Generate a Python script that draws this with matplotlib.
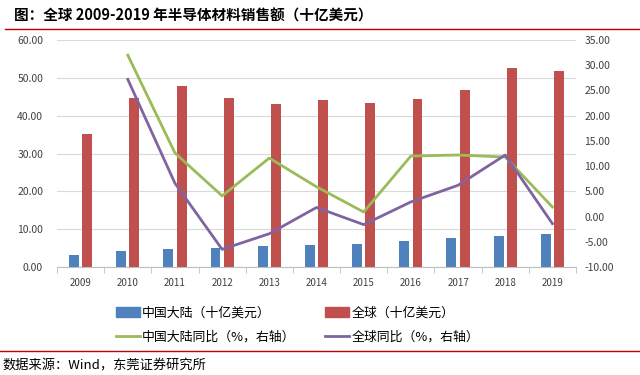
import numpy as np
import matplotlib.pyplot as plt
from matplotlib.lines import Line2D
from matplotlib.patches import Patch

plt.rcParams['font.family'] = ['Noto Sans CJK SC', 'DejaVu Sans']

years = ['2009', '2010', '2011', '2012', '2013', '2014', '2015', '2016', '2017', '2018', '2019']
china = [3.2, 4.3, 4.8, 5.0, 5.6, 5.8, 6.1, 6.9, 7.6, 8.3, 8.6]
world = [35.2, 44.8, 47.9, 44.8, 43.1, 44.1, 43.4, 44.4, 46.8, 52.6, 51.9]
china_yoy = [np.nan, 32.0, 12.6, 4.1, 11.6, 5.9, 0.9, 12.0, 12.2, 11.8, 1.9]
world_yoy = [np.nan, 27.2, 6.6, -6.5, -3.4, 1.8, -1.6, 2.9, 6.2, 12.2, -1.4]

c_blue = '#4F81BD'
c_red = '#C0504D'
c_green = '#9BBB59'
c_purple = '#8064A2'
c_txt = '#404040'

fig = plt.figure(figsize=(6.4, 3.75), dpi=100)
ax = fig.add_axes([57/640, 108/375, 519/640, 227/375])
x = np.arange(len(years))

ax.bar(x - 0.14, china, width=0.21, color=c_blue, zorder=2)
ax.bar(x + 0.14, world, width=0.21, color=c_red, zorder=2)
ax.set_ylim(0, 60)
ax.set_yticks(np.arange(0, 61, 10))
ax.set_yticklabels(['%.2f' % v for v in np.arange(0, 61, 10)])
ax.set_xlim(-0.5, len(years) - 0.5)
ax.set_xticks(x)
ax.set_xticklabels(years)
ax.set_xticks(np.arange(-0.5, len(years)), minor=True)
ax.tick_params(axis='x', which='major', length=0, pad=8, labelsize=7, colors=c_txt)
ax.tick_params(axis='x', which='minor', length=4, color='#BFBFBF')
ax.tick_params(axis='y', length=0, labelsize=7.5, colors=c_txt, pad=10)
ax.grid(axis='y', color='#D9D9D9', linewidth=0.8, zorder=0)
for s in ['top', 'right', 'left']:
    ax.spines[s].set_visible(False)
ax.spines['bottom'].set_color('#BFBFBF')

ax2 = ax.twinx()
ax2.plot(x, china_yoy, color=c_green, linewidth=2)
ax2.plot(x, world_yoy, color=c_purple, linewidth=2)
ax2.set_ylim(-10, 35)
ax2.set_yticks(np.arange(-10, 36, 5))
ax2.set_yticklabels(['%.2f' % v for v in np.arange(-10, 36, 5)])
ax2.tick_params(axis='y', length=0, labelsize=7.5, colors=c_txt, pad=6)
for s in ['top', 'right', 'left', 'bottom']:
    ax2.spines[s].set_visible(False)

# column-wise fill: blue, green | red, purple
handles = [Patch(color=c_blue), Line2D([], [], color=c_green, linewidth=2),
           Patch(color=c_red), Line2D([], [], color=c_purple, linewidth=2)]
labels = ['中国大陆（十亿美元）', '中国大陆同比（%，右轴）', '全球（十亿美元）', '全球同比（%，右轴）']
fig.legend(handles, labels, ncol=2, loc='center', bbox_to_anchor=(0.465, 1 - 325/375),
           frameon=False, fontsize=9.3, handlelength=1.8, handletextpad=0.2,
           columnspacing=2.3, labelspacing=0.85)

fig.text(14/640, 1 - 16/375, '图：全球 2009-2019 年半导体材料销售额（十亿美元）',
         fontsize=10.5, fontweight='bold', va='center', ha='left')
fig.add_artist(Line2D([5/640, 1], [1 - 29/375, 1 - 29/375], color='#C00000', linewidth=1))
fig.add_artist(Line2D([0, 1], [1 - 351/375, 1 - 351/375], color='#C00000', linewidth=1))
fig.text(2/640, 1 - 366/375, '数据来源：Wind，东莞证券研究所', fontsize=9.5, va='center', ha='left')

fig.savefig('out.png', dpi=100)
